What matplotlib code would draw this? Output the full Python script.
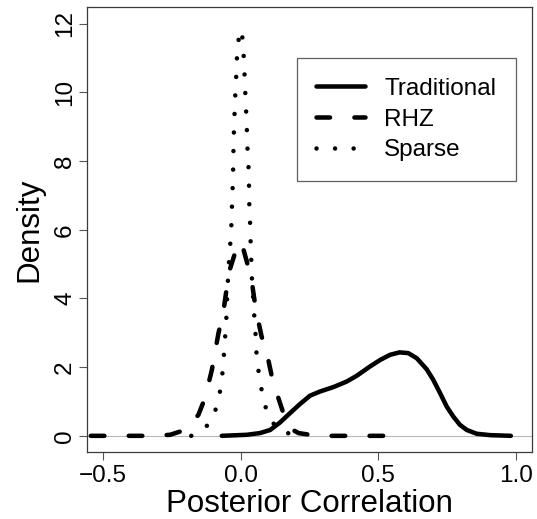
import matplotlib
matplotlib.use("Agg")
import matplotlib.pyplot as plt

plt.rcParams["font.family"] = ["Liberation Sans", "DejaVu Sans"]

# Posterior density of the correlation under three priors
trad_x = [-0.069, 0.022, 0.070, 0.107, 0.143, 0.179, 0.216, 0.252, 0.288, 0.337,
          0.385, 0.422, 0.470, 0.507, 0.543, 0.577, 0.609, 0.640, 0.676, 0.700,
          0.725, 0.749, 0.773, 0.797, 0.822, 0.858, 0.907, 0.982]
trad_y = [0.00, 0.03, 0.08, 0.17, 0.39, 0.66, 0.93, 1.17, 1.29, 1.42,
          1.58, 1.75, 2.02, 2.21, 2.36, 2.43, 2.41, 2.26, 1.94, 1.63,
          1.24, 0.85, 0.56, 0.32, 0.17, 0.06, 0.02, 0.00]

rhz_x = [-0.545, -0.350, -0.300, -0.257, -0.203, -0.154, -0.130, -0.105, -0.081,
         -0.063, -0.043, -0.015, 0.002, 0.022, 0.040, 0.055, 0.076, 0.095, 0.113,
         0.131, 0.155, 0.179, 0.210, 0.252, 0.300, 0.573]
rhz_y = [0.00, 0.00, 0.01, 0.03, 0.17, 0.61, 1.10, 1.92, 2.99,
         3.62, 4.76, 5.47, 5.65, 5.08, 4.50, 3.67, 2.89, 2.41, 1.73,
         1.24, 0.66, 0.22, 0.08, 0.03, 0.00, 0.00]

sparse_x = [-0.180, -0.172, -0.118, -0.087, -0.073, -0.065, -0.060, -0.055, -0.051,
            -0.049, -0.045, -0.041, -0.035, -0.033, -0.0305, -0.028, -0.027, -0.0255,
            -0.023, -0.0207, -0.017, -0.0146, -0.0085, 0.0035, 0.0096, 0.013, 0.0157,
            0.019, 0.022, 0.024, 0.028, 0.030, 0.031, 0.034, 0.036, 0.041, 0.046,
            0.050, 0.055, 0.058, 0.068, 0.080, 0.098, 0.137, 0.204, 0.210]
sparse_y = [0.00, 0.03, 0.32, 0.84, 1.39, 1.94, 2.50, 3.07, 3.62,
            4.19, 4.76, 5.32, 5.88, 6.44, 7.00, 7.57, 8.14, 8.70,
            9.25, 9.81, 10.37, 10.93, 11.51, 11.83, 11.24, 10.68, 10.13,
            9.56, 9.00, 8.44, 7.89, 7.33, 6.77, 6.20, 5.63, 4.50, 3.94,
            3.38, 2.83, 2.26, 1.70, 1.15, 0.61, 0.15, 0.01, 0.00]

x_ticks = [-0.5, 0.0, 0.5, 1.0]
x_tick_labels = ["\u22120.5", "0.0", "0.5", "1.0"]
y_ticks = [0, 2, 4, 6, 8, 10, 12]

fig = plt.figure(figsize=(5.37, 5.19), dpi=100)
ax = fig.add_axes([0.1615, 0.1285, 0.8297, 0.8574])

lw = 3.25
common = dict(color="black", lw=lw, solid_capstyle="round", dash_capstyle="round",
              solid_joinstyle="round", dash_joinstyle="round")

ax.axhline(0, color="#b8b8b8", lw=0.8, zorder=1)
ax.plot(trad_x, trad_y, ls="-", label="Traditional", zorder=3, **common)
ax.plot(rhz_x, rhz_y, ls=(0, (3.0, 5.4)), label="RHZ", zorder=3, **common)
ax.plot(sparse_x, sparse_y, ls=(0, (0.01, 4.1)), label="Sparse", zorder=3, **common)

ax.set_xlim(-0.56, 1.06)
ax.set_ylim(-0.48, 12.48)
ax.set_xticks(x_ticks)
ax.set_xticklabels(x_tick_labels)
ax.set_yticks(y_ticks)

for sp in ax.spines.values():
    sp.set_color("#3a3a3a")
    sp.set_linewidth(0.9)

ax.tick_params(axis="both", direction="out", length=5.8, width=0.8,
               color="#555555", labelsize=17.5, labelcolor="black")
ax.tick_params(axis="x", pad=3.0)
ax.tick_params(axis="y", pad=1.8)
for lab in ax.get_yticklabels():
    lab.set_rotation(90)
    lab.set_va("center")
    lab.set_ha("right")

ax.set_xlabel("Posterior Correlation", fontsize=22.5)
ax.set_ylabel("Density", fontsize=22.5)
ax.xaxis.set_label_coords(0.5, -0.083)
ax.yaxis.set_label_coords(-0.095, 0.5)

leg = ax.legend(loc="upper right", bbox_to_anchor=(0.9627, 0.8854), borderaxespad=0,
                fontsize=17.5, frameon=True, fancybox=False, handlelength=2.0,
                handletextpad=0.8, borderpad=0.8, labelspacing=0.36)
leg.get_frame().set_edgecolor("#3a3a3a")
leg.get_frame().set_linewidth(0.9)

fig.savefig("out.png", dpi=100)
